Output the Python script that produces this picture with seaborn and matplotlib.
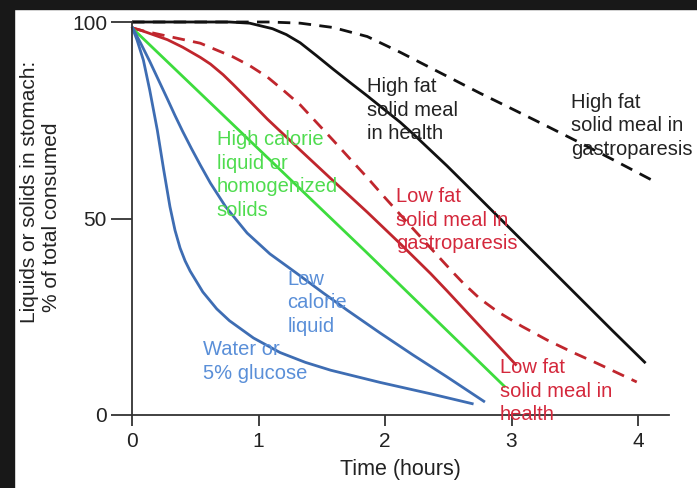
import numpy as np
import pandas as pd
import matplotlib
matplotlib.use("Agg")
import matplotlib.pyplot as plt
import seaborn as sns

# ---- data (time in hours, % of total in stomach) ----
hf_health_t = [0.0, 0.77, 0.93, 1.11, 1.22, 1.33, 1.46, 1.59, 1.72, 1.86, 1.98,
               2.12, 2.22, 2.49, 2.75, 3.28, 3.80, 4.06]
hf_health_y = [100, 100, 99.7, 98.3, 96.8, 94.7, 91.4, 88.0, 84.7, 81.2, 78.1,
               74.5, 71.6, 63.4, 55.1, 38.1, 21.4, 13.2]

hf_gp_t = [0.0, 1.09, 1.33, 1.59, 1.86, 2.12, 2.49, 2.75, 3.01, 3.28, 3.54,
           3.80, 4.12]
hf_gp_y = [100, 100, 99.7, 98.6, 96.3, 92.3, 86.2, 81.9, 77.8, 73.5, 69.3,
           65.0, 59.6]

lf_health_t = [0.0, 0.06, 0.28, 0.40, 0.54, 0.62, 0.72, 0.80, 0.93, 1.07, 1.33,
               1.59, 1.86, 2.12, 2.36, 2.49, 2.75, 3.04]
lf_health_y = [98.5, 98.0, 95.5, 93.6, 91.0, 89.3, 86.6, 84.1, 79.9, 75.3, 67.4,
               59.6, 51.6, 43.6, 36.0, 31.6, 22.6, 12.6]

lf_gp_t = [0.0, 0.08, 0.28, 0.54, 0.80, 0.93, 1.07, 1.19, 1.33, 1.46, 1.59,
           1.72, 1.86, 1.98, 2.12, 2.25, 2.38, 2.54, 2.62, 2.75, 2.89, 3.08,
           3.28, 3.48, 3.68, 3.99]
lf_gp_y = [98.5, 97.8, 96.4, 94.6, 91.1, 88.9, 86.0, 82.8, 78.9, 74.4, 69.9,
           65.3, 60.4, 56.0, 51.0, 46.4, 41.8, 36.2, 33.5, 29.6, 26.3, 22.6,
           19.1, 16.0, 13.1, 8.4]

hical_t = [0.0, 1.85, 2.95]
hical_y = [98.5, 41.5, 7.1]

water_t = [0.0, 0.04, 0.09, 0.14, 0.20, 0.25, 0.30, 0.34, 0.38, 0.42, 0.46,
           0.56, 0.67, 0.77, 0.96, 1.17, 1.37, 1.57, 1.96, 2.36, 2.70]
water_y = [98.8, 95.4, 90.3, 82.7, 72.5, 62.5, 53.0, 47.0, 42.5, 39.2, 36.6,
           31.3, 27.0, 24.0, 19.6, 15.9, 13.4, 11.4, 8.3, 5.4, 2.8]

lowcal_t = [0.0, 0.07, 0.14, 0.21, 0.28, 0.34, 0.40, 0.47, 0.54, 0.62, 0.74,
            0.91, 1.09, 1.30, 1.51, 1.70, 1.96, 2.22, 2.49, 2.79]
lowcal_y = [98.8, 94.5, 90.0, 85.2, 80.4, 76.2, 72.2, 67.8, 63.6, 59.0, 53.0,
            46.3, 41.0, 36.1, 31.1, 26.7, 20.9, 15.3, 9.7, 3.3]

x_ticks = [0, 1, 2, 3, 4]
y_ticks = [0, 50, 100]

# ---- styling ----
sns.set_style("ticks")
plt.rcParams['font.family'] = ['Liberation Sans', 'DejaVu Sans']

BLACK = "#111111"
RED = "#c0262d"
GREEN = "#3ddc3d"
BLUE = "#3e6db3"

fig = plt.figure(figsize=(6.97, 4.88), dpi=100)
fig.patch.set_facecolor("white")
ax = fig.add_axes([132/697, 73/488, 537/697, 393/488])

series = [
    (hf_health_t, hf_health_y, BLACK, "-"),
    (hf_gp_t, hf_gp_y, BLACK, "--"),
    (lf_health_t, lf_health_y, RED, "-"),
    (lf_gp_t, lf_gp_y, RED, "--"),
    (hical_t, hical_y, GREEN, "-"),
    (water_t, water_y, BLUE, "-"),
    (lowcal_t, lowcal_y, BLUE, "-"),
]
for t, y, c, ls in series:
    df = pd.DataFrame({"t": t, "y": y})
    sns.lineplot(data=df, x="t", y="y", ax=ax, color=c, lw=2.0,
                 sort=False, estimator=None)
    line = ax.lines[-1]
    line.set_linestyle(ls)
    if ls == "--":
        line.set_dashes((4.5, 3))
    line.set_clip_on(False)
    line.set_solid_capstyle("butt")
    line.set_solid_joinstyle("round")

ax.set_xlim(0, 4.245)
ax.set_ylim(0, 100)
ax.set_xticks(x_ticks)
ax.set_yticks(y_ticks)
ax.set_xticklabels([str(v) for v in x_ticks])
ax.set_yticklabels([str(v) for v in y_ticks])
for s in ["top", "right"]:
    ax.spines[s].set_visible(False)
for s in ["left", "bottom"]:
    ax.spines[s].set_color("#333333")
    ax.spines[s].set_linewidth(1.3)
ax.tick_params(axis="y", length=15, width=1.3, color="#333333", labelsize=15,
               pad=3, labelcolor="#222222")
ax.tick_params(axis="x", length=8, width=1.3, color="#333333", labelsize=15,
               pad=4, labelcolor="#222222")
ax.set_xlabel("Time (hours)", fontsize=15.5, color="#222222", labelpad=6)
ax.set_ylabel("")
ax.text(-0.19, 0.567, "Liquids or solids in stomach:", rotation=90,
        transform=ax.transAxes, ha="center", va="center", fontsize=15,
        color="#222222")
ax.text(-0.149, 0.504, "% of total consumed", rotation=90,
        transform=ax.transAxes, ha="center", va="center", fontsize=15,
        color="#222222")

# ---- annotations ----
lab_kw = dict(fontsize=14.5, va="top", ha="left", linespacing=1.3)
ax.text(1.86, 86, "High fat\nsolid meal\nin health", color="#222222", **lab_kw)
ax.text(3.47, 82, "High fat\nsolid meal in\ngastroparesis", color="#222222", **lab_kw)
ax.text(0.67, 72.5, "High calorie\nliquid or\nhomogenized\nsolids", color="#4fdc4f", **lab_kw)
ax.text(2.09, 58, "Low fat\nsolid meal in\ngastroparesis", color="#d4283c", **lab_kw)
ax.text(1.23, 37, "Low\ncalorie\nliquid", color="#5a8fd8", **lab_kw)
ax.text(0.56, 19, "Water or\n5% glucose", color="#5a8fd8", **lab_kw)
ax.text(2.91, 14.5, "Low fat\nsolid meal in\nhealth", color="#d4283c", clip_on=False, **lab_kw)

# dark frame edges of the original screenshot
fig.add_artist(plt.Rectangle((0, 1 - 9/488), 1, 9/488, transform=fig.transFigure,
                             color="#181818", zorder=10))
fig.add_artist(plt.Rectangle((0, 0), 14/697, 1, transform=fig.transFigure,
                             color="#181818", zorder=10))

fig.savefig("out.png", dpi=100, facecolor="white")
